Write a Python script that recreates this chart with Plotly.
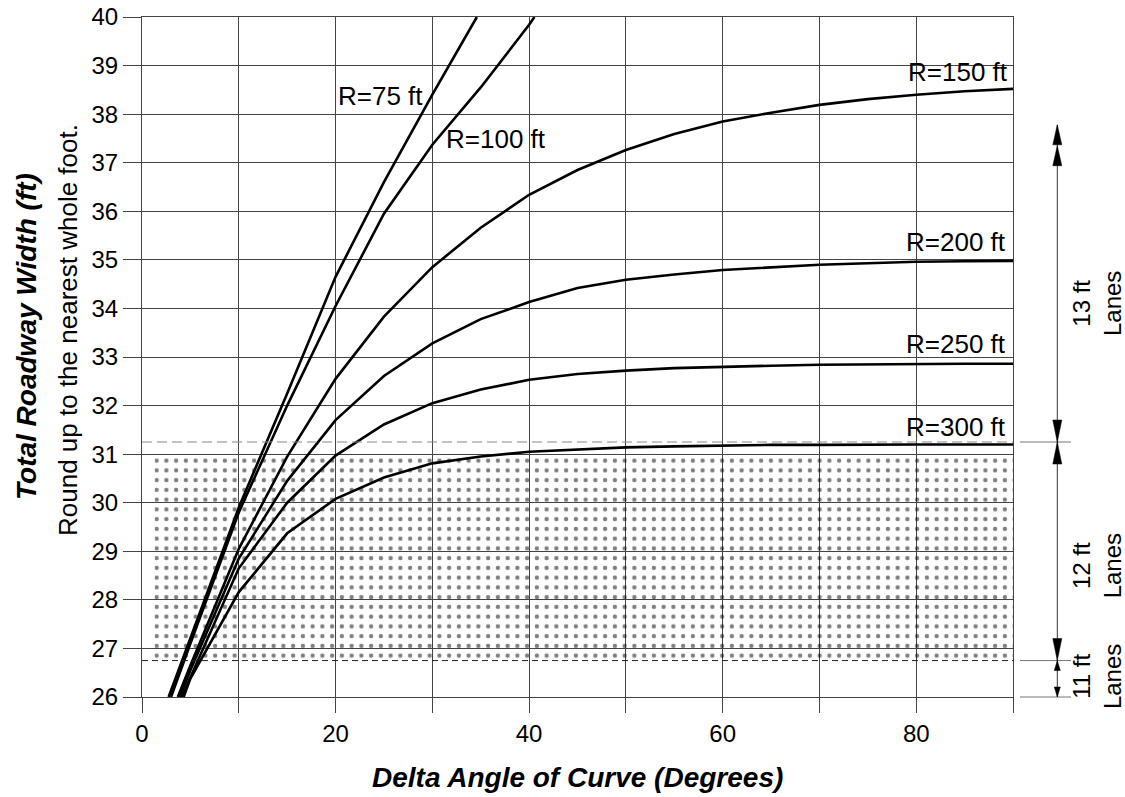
import plotly.graph_objects as go

# ---------------- data ----------------
delta_75 = [2.75, 5, 10, 15, 20, 25, 30, 34.6]
width_75 = [26.0, 27.2, 29.9, 32.25, 34.65, 36.6, 38.4, 40.0]

delta_100 = [3.0, 5, 10, 15, 20, 25, 30, 35, 40, 40.55]
width_100 = [26.0, 27.1, 29.8, 32.0, 34.05, 35.95, 37.37, 38.55, 39.84, 40.0]

delta_150 = [3.7, 5, 10, 15, 20, 25, 30, 35, 40, 45, 50, 55, 60, 65, 70, 75, 80, 85, 90]
width_150 = [26.0, 26.65, 29.05, 30.95, 32.55, 33.83, 34.85, 35.66, 36.34, 36.85, 37.26,
             37.59, 37.85, 38.03, 38.19, 38.31, 38.40, 38.47, 38.52]

delta_200 = [3.9, 5, 10, 15, 20, 25, 30, 35, 40, 45, 50, 55, 60, 65, 70, 75, 80, 85, 90]
width_200 = [26.0, 26.55, 28.85, 30.45, 31.70, 32.61, 33.28, 33.78, 34.13, 34.42, 34.59,
             34.70, 34.79, 34.85, 34.90, 34.93, 34.96, 34.97, 34.98]

delta_250 = [4.1, 5, 10, 15, 20, 25, 30, 35, 40, 45, 50, 55, 60, 65, 70, 75, 80, 85, 90]
width_250 = [26.0, 26.4, 28.65, 30.0, 30.97, 31.61, 32.05, 32.33, 32.53, 32.65, 32.72,
             32.77, 32.80, 32.82, 32.84, 32.85, 32.85, 32.86, 32.86]

delta_300 = [4.3, 5, 10, 15, 20, 25, 30, 35, 40, 45, 50, 55, 60, 65, 70, 75, 80, 85, 90]
width_300 = [26.0, 26.38, 28.16, 29.37, 30.08, 30.52, 30.81, 30.95, 31.05, 31.10, 31.14,
             31.16, 31.18, 31.19, 31.19, 31.20, 31.20, 31.20, 31.20]

curve_labels = ["R=75 ft", "R=100 ft", "R=150 ft", "R=200 ft", "R=250 ft", "R=300 ft"]
label_x = [24.6, 36.6, 89.7, 89.5, 89.5, 89.5]
label_y = [38.37, 37.48, 38.86, 35.36, 33.26, 31.55]

x_tick_vals = [0, 10, 20, 30, 40, 50, 60, 70, 80, 90]
x_tick_text = ["0", "", "20", "", "40", "", "60", "", "80", ""]
y_tick_vals = [26, 27, 28, 29, 30, 31, 32, 33, 34, 35, 36, 37, 38, 39, 40]

# shaded (12 ft lane) band and lane limits
band_x = [1.3, 90, 90, 1.3, 1.3]
band_y = [26.75, 26.75, 31.02, 31.02, 26.75]
lane_limits = [26.0, 26.75, 31.25]
lane_text = ["11 ft<br>Lanes", "12 ft<br>Lanes", "13 ft<br>Lanes"]
lane_text_y = [26.43, 28.71, 34.11]
arrow_top = [37.78, 37.35]

Y0, Y1 = 26, 40
FONT = "Liberation Sans, Arial, sans-serif"


def yp(v):
    return (v - Y0) / (Y1 - Y0)


fig = go.Figure()

fig.add_trace(go.Scatter(
    x=band_x, y=band_y, mode="lines", fill="toself",
    line=dict(width=0, color="rgba(0,0,0,0)"),
    fillcolor="rgba(0,0,0,0)",
    fillpattern=dict(shape=".", fgcolor="black", bgcolor="rgba(0,0,0,0)",
                     size=9.75, solidity=0.16, fillmode="overlay"),
    hoverinfo="skip", showlegend=False))

for xs, ys in [(delta_75, width_75), (delta_100, width_100), (delta_150, width_150),
               (delta_200, width_200), (delta_250, width_250), (delta_300, width_300)]:
    fig.add_trace(go.Scatter(x=xs, y=ys, mode="lines",
                             line=dict(color="black", width=2.6),
                             hoverinfo="skip", showlegend=False))

annotations = []
for i, t in enumerate(curve_labels):
    annotations.append(dict(
        x=label_x[i], y=label_y[i], xref="x", yref="y", text=t, showarrow=False,
        xanchor="center" if i < 2 else "right", yanchor="middle",
        font=dict(family=FONT, size=26, color="black")))

for t, v in zip(lane_text, lane_text_y):
    annotations.append(dict(
        x=1.0964, y=yp(v), xref="paper", yref="paper", text=t, showarrow=False,
        textangle=-90, xanchor="center", yanchor="middle", align="center",
        font=dict(family=FONT, size=24, color="black")))

annotations.append(dict(
    x=0.5, y=(697 - 777) / 680, xref="paper", yref="paper",
    text="<b><i>Delta Angle of Curve (Degrees)</i></b>", showarrow=False,
    xanchor="center", yanchor="middle", font=dict(family=FONT, size=28, color="black")))
annotations.append(dict(
    x=(26 - 142) / 871, y=(697 - 337) / 680, xref="paper", yref="paper",
    text="<b><i>Total Roadway Width (ft)</i></b>", showarrow=False, textangle=-90,
    xanchor="center", yanchor="middle", font=dict(family=FONT, size=28, color="black")))
annotations.append(dict(
    x=(67.5 - 142) / 871, y=(697 - 330.5) / 680, xref="paper", yref="paper",
    text="Round up to the nearest whole foot.", showarrow=False, textangle=-90,
    xanchor="center", yanchor="middle", font=dict(family=FONT, size=26, color="black")))

shapes = []
# dashed lane limits inside the plot
shapes.append(dict(type="line", xref="x", yref="y", x0=0, x1=90, y0=31.25, y1=31.25,
                   line=dict(color="#888", width=1, dash="10px,5px")))
shapes.append(dict(type="line", xref="x", yref="y", x0=0, x1=90, y0=26.75, y1=26.75,
                   line=dict(color="#222", width=1, dash="6px,4px")))

# extension lines on the right
ext_x0, ext_x1 = (1020 - 142) / 871, (1071 - 142) / 871
for v in lane_limits:
    shapes.append(dict(type="line", xref="paper", yref="paper", x0=ext_x0, x1=ext_x1,
                       y0=yp(v), y1=yp(v), line=dict(color="#777", width=1)))

ax_x = (1057.3 - 142) / 871
shapes.append(dict(type="line", xref="paper", yref="paper", x0=ax_x, x1=ax_x,
                   y0=yp(lane_limits[0]), y1=yp(arrow_top[0]),
                   line=dict(color="#333", width=1)))


def head(tip, up, length_px, half_px):
    ty = yp(tip)
    dy = length_px / 680 * (-1 if up else 1)
    dx = half_px / 871
    return dict(type="path", xref="paper", yref="paper",
                path=f"M {ax_x} {ty} L {ax_x - dx} {ty + dy} L {ax_x + dx} {ty + dy} Z",
                fillcolor="black", line=dict(color="black", width=0.5))


# 11 ft arrow (small heads)
shapes.append(head(lane_limits[0], False, 10, 3))
shapes.append(head(lane_limits[1], True, 10, 3))
# 12 ft arrow
shapes.append(head(lane_limits[1], False, 22, 4.5))
shapes.append(head(lane_limits[2], True, 22, 4.5))
# 13 ft arrow
shapes.append(head(lane_limits[2], False, 22, 4.5))
shapes.append(head(arrow_top[0], True, 20, 4.5))
shapes.append(head(arrow_top[1], True, 20, 4.5))

fig.update_layout(
    width=1125, height=797,
    margin=dict(l=142, r=112, t=17, b=100, autoexpand=False),
    paper_bgcolor="white", plot_bgcolor="white",
    showlegend=False,
    font=dict(family=FONT, color="black"),
    annotations=annotations, shapes=shapes,
    xaxis=dict(range=[0, 90], tickmode="array", tickvals=x_tick_vals, ticktext=x_tick_text,
               ticks="outside", ticklen=15, tickcolor="#444", tickwidth=1,
               showgrid=True, gridcolor="#444", gridwidth=1, zeroline=False,
               showline=True, linecolor="#444", linewidth=1, mirror=True,
               tickfont=dict(family=FONT, size=24, color="black"), fixedrange=True),
    yaxis=dict(range=[26, 40], tickmode="array", tickvals=y_tick_vals,
               ticks="outside", ticklen=18, tickcolor="#444", tickwidth=1,
               showgrid=True, gridcolor="#444", gridwidth=1, zeroline=False,
               showline=True, linecolor="#444", linewidth=1, mirror=True,
               tickfont=dict(family=FONT, size=24, color="black"), fixedrange=True),
)

fig.write_html("out.html", config={"displayModeBar": False},
               post_script="document.body.style.margin='0px';document.body.style.overflow='hidden';")
